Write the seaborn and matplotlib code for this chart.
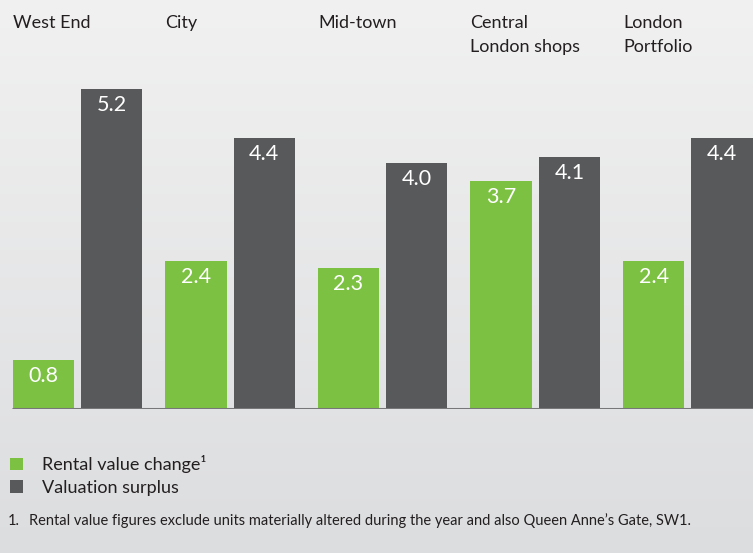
import numpy as np
import pandas as pd
import matplotlib.pyplot as plt
import seaborn as sns

# chart data
regions = ["West End", "City", "Mid-town", "Central\nLondon shops", "London\nPortfolio"]
rental_change = [0.8, 2.4, 2.3, 3.7, 2.4]
valuation_surplus = [5.2, 4.4, 4.0, 4.1, 4.4]
series = ["Rental value change\u00b9", "Valuation surplus"]
footnote = "Rental value figures exclude units materially altered during the year and also Queen Anne\u2019s Gate, SW1."

green = "#7cc142"
dark = "#58595b"

df = pd.DataFrame({
    "region": regions * 2,
    "series": [series[0]] * len(regions) + [series[1]] * len(regions),
    "value": rental_change + valuation_surplus,
})

sns.set_style("white")
plt.rcParams["font.family"] = ["Lato", "DejaVu Sans"]

fig = plt.figure(figsize=(7.53, 5.53), dpi=100)

# gradient background
bg = fig.add_axes([0, 0, 1, 1], zorder=-10)
grad = np.linspace(0, 1, 256).reshape(-1, 1)
top = np.array([0.945, 0.945, 0.945])
bot = np.array([0.863, 0.867, 0.875])
img = top + (bot - top) * grad[:, :, None]
bg.imshow(img, aspect="auto", extent=[0, 1, 0, 1])
bg.axis("off")

base_px = 409
ax = fig.add_axes([0, (553 - base_px) / 553, 1, base_px / 553])
ax.patch.set_alpha(0)
sns.barplot(data=df, x="region", y="value", hue="series",
            palette=[green, dark], width=0.895, gap=0.103,
            saturation=1, linewidth=0, ax=ax, legend=True)

ax.set_xlim(-0.508, 4.427)
ax.set_ylim(0, base_px / 61.5)
ax.set_xticks([])
ax.set_yticks([])
ax.set_xlabel("")
ax.set_ylabel("")
for s in ax.spines.values():
    s.set_visible(False)
ax.axhline(0, xmin=(13 / 753), xmax=1, color="#77777a", lw=2.2, zorder=5)

# value labels inside the bars
for cont in ax.containers:
    for bar in cont:
        h = bar.get_height()
        ax.annotate(f"{h:.1f}", (bar.get_x() + bar.get_width() / 2, h),
                    xytext=(0, -11.5), textcoords="offset points",
                    ha="center", va="center", color="white", fontsize=15.5)

# category labels at the top
for i, name in enumerate(regions):
    left = ax.containers[0][i].get_x()
    ax.text(left, 6.41, name, ha="left", va="top", fontsize=13,
            color="#231f20", linespacing=1.62)

# legend
handles, labels = ax.get_legend_handles_labels()
ax.get_legend().remove()
fig.legend(handles, labels, loc="upper left", bbox_to_anchor=(0.004, 0.19),
           borderaxespad=0, frameon=False, fontsize=13, handlelength=0.7,
           handleheight=0.7, handletextpad=1.05, labelspacing=0.36,
           labelcolor="#231f20")

fig.text(8 / 753, 1 - 521 / 553, "1.", fontsize=10.5, va="center", color="#231f20")
fig.text(29 / 753, 1 - 521 / 553, footnote, fontsize=10.5, va="center", color="#231f20")

fig.savefig("out.png", dpi=100)
